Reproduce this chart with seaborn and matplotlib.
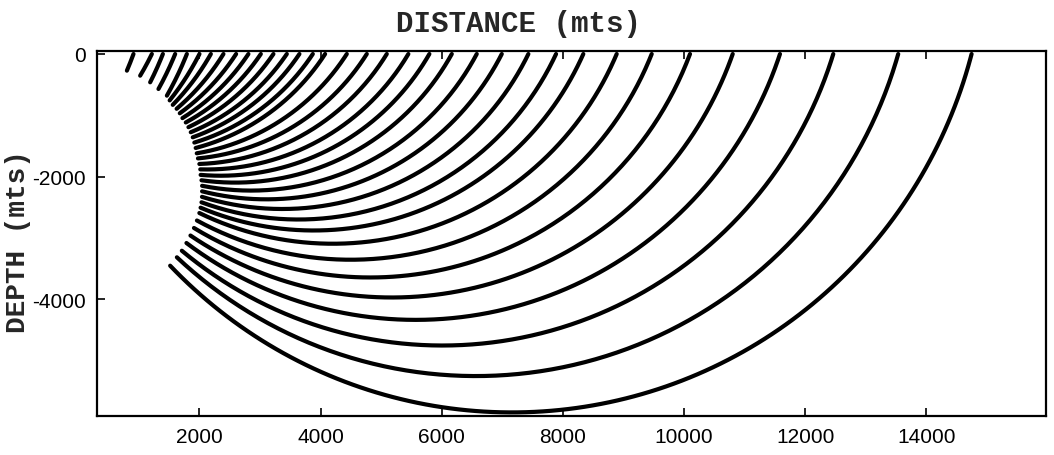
import numpy as np
import pandas as pd
import matplotlib
matplotlib.use("Agg")
import matplotlib.pyplot as plt
import seaborn as sns

# Ray end points: where each ray leaves the wavefront (distance, depth)
# and where it reaches the surface (distance), all in metres.
start_x = [804, 1023, 1188, 1325, 1464, 1510, 1561, 1625, 1677, 1721, 1776,
           1820, 1858, 1891, 1917, 1939, 1957, 1977, 2000, 2015, 2021, 2035,
           2045, 2045, 2043, 2035, 2020, 2000, 1960, 1911, 1853, 1787, 1711,
           1629, 1518]
start_z = [-272, -354, -462, -571, -680, -757, -830, -894, -967, -1046,
           -1117, -1194, -1276, -1359, -1445, -1533, -1620, -1703, -1794,
           -1882, -1972, -2060, -2150, -2240, -2330, -2419, -2507, -2594,
           -2716, -2838, -2961, -3083, -3209, -3316, -3453]
exit_x = [913, 1216, 1398, 1601, 1794, 2002, 2190, 2398, 2607, 2810, 3015,
          3223, 3444, 3652, 3873, 4076, 4434, 4764, 5094, 5450, 5797, 6167,
          6579, 6992, 7431, 7888, 8338, 8889, 9467, 10099, 10804, 11584,
          12464, 13536, 14747]

x_ticks = [2000, 4000, 6000, 8000, 10000, 12000, 14000]
z_ticks = [0, -2000, -4000]

# Linear velocity gradient: every ray is a circular arc whose centre lies
# on a line at height v0/g above the surface.
CENTRE_HEIGHT = 2000.0


def ray_arc(x0, z0, x1, h=CENTRE_HEIGHT, n=240):
    xc = (x1 ** 2 - x0 ** 2 + h ** 2 - (z0 - h) ** 2) / (2.0 * (x1 - x0))
    r = np.hypot(x1 - xc, h)
    a0 = np.arctan2(z0 - h, x0 - xc)
    a1 = np.arctan2(-h, x1 - xc)
    t = np.linspace(a0, a1, n)
    return xc + r * np.cos(t), h + r * np.sin(t)


frames = []
for i, (x0, z0, x1) in enumerate(zip(start_x, start_z, exit_x)):
    xs, zs = ray_arc(x0, z0, x1)
    frames.append(pd.DataFrame({"distance": xs, "depth": zs, "ray": i}))
rays = pd.concat(frames, ignore_index=True)

sns.set_style("ticks")
plt.rcParams["font.family"] = ["Liberation Sans", "DejaVu Sans"]

fig = plt.figure(figsize=(10.54, 4.56), dpi=100)
ax = fig.add_axes([0.092, 0.0855, 0.9004, 0.8005])

sns.lineplot(data=rays, x="distance", y="depth", units="ray", estimator=None,
             sort=False, color="black", linewidth=3.0, legend=False, ax=ax)

ax.set_xlim(310, 15975)
ax.set_ylim(-5905, 49)
ax.set_xticks(x_ticks)
ax.set_yticks(z_ticks)
ax.set_xticklabels([str(v) for v in x_ticks], fontsize=15)
ax.set_yticklabels([str(v) for v in z_ticks], fontsize=15)
ax.tick_params(direction="in", length=6, width=1.2, top=True, right=False,
               pad=8, colors="black")
for side in ax.spines.values():
    side.set_linewidth(1.6)
    side.set_color("black")

ax.set_xlabel("")
ax.set_ylabel("")
fig.text(0.4915, 0.947, "DISTANCE (mts)", family="Liberation Mono",
         weight="bold", size=21, ha="center", va="center")
fig.text(0.017, 0.47, "DEPTH (mts)", family="Liberation Mono",
         weight="bold", size=20, rotation=90, ha="center", va="center")

fig.savefig("out.png", dpi=100, facecolor="white")
